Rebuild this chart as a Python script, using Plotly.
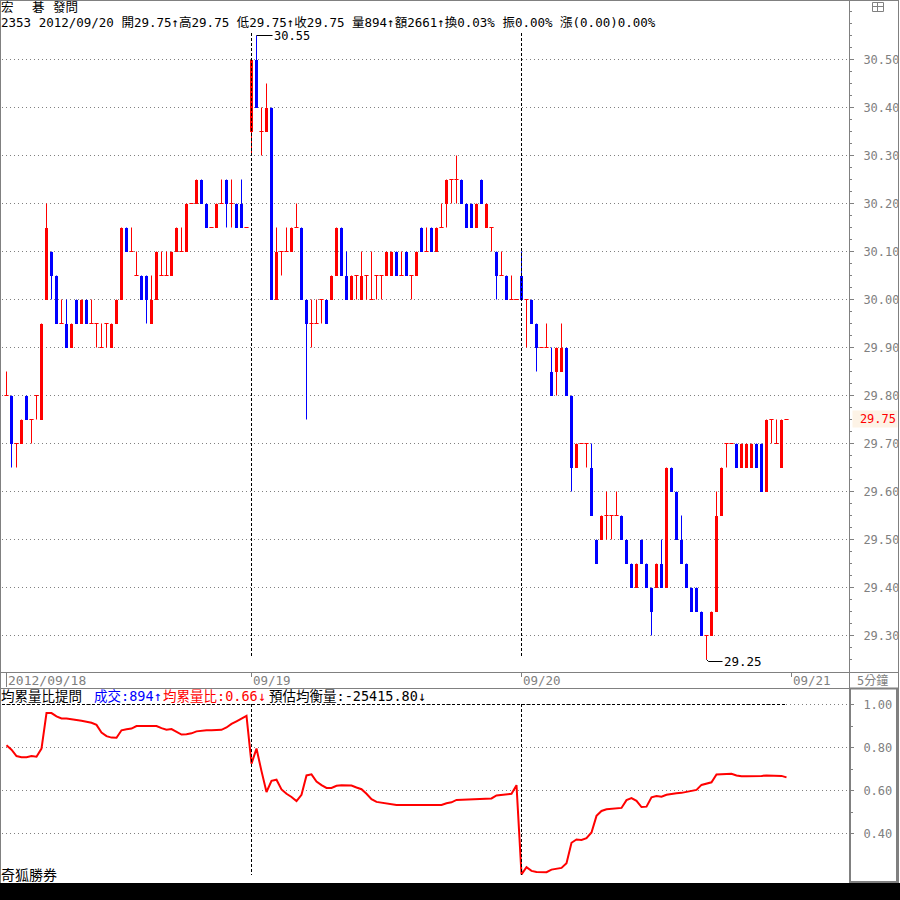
import plotly.graph_objects as go

# ---------------- data ----------------
day_labels = ["2012/09/18", "09/19", "09/20", "09/21"]
day_first_bar = [0, 49, 103, 157]

price_ticks = [30.50, 30.40, 30.30, 30.20, 30.10, 30.00, 29.90, 29.80, 29.70, 29.60, 29.50, 29.40, 29.30]
ratio_ticks = [1.00, 0.80, 0.60, 0.40]
last_price = 29.75

opens = [
    # 09/18
    29.80, 29.80, 29.70, 29.70, 29.80, 29.75, 29.80, 29.75, 30.00, 30.10,
    30.05, 29.95, 29.95, 29.90, 30.00, 29.95, 30.00, 29.95, 29.95, 29.90,
    29.95, 29.90, 29.95, 30.00, 30.15, 30.10, 30.05, 30.05, 30.05, 29.95,
    30.00, 30.05, 30.05, 30.05, 30.10, 30.10, 30.10, 30.20, 30.20, 30.25,
    30.20, 30.15, 30.15, 30.20, 30.25, 30.20, 30.20, 30.20, 30.15,
    # 09/19
    30.35, 30.50, 30.35, 30.35, 30.40, 30.00, 30.10, 30.10, 30.10, 30.15,
    30.15, 30.00, 29.95, 29.95, 30.00, 30.00, 30.00, 30.05, 30.15, 30.05,
    30.00, 30.05, 30.00, 30.05, 30.00, 30.05, 30.05, 30.05, 30.05, 30.10,
    30.05, 30.10, 30.05, 30.05, 30.15, 30.10, 30.15, 30.10, 30.15, 30.20,
    30.25, 30.25, 30.25, 30.20, 30.20, 30.15, 30.25, 30.15, 30.15, 30.10,
    30.05, 30.05, 30.00, 30.00,
    # 09/20
    30.05, 30.00, 30.00, 29.95, 29.90, 29.90, 29.85, 29.85, 29.85, 29.90,
    29.80, 29.65, 29.70, 29.70, 29.65, 29.50, 29.50, 29.55, 29.55, 29.55,
    29.55, 29.50, 29.45, 29.40, 29.50, 29.45, 29.40, 29.40, 29.45, 29.40,
    29.65, 29.60, 29.50, 29.45, 29.40, 29.40, 29.35, 29.30, 29.30, 29.35,
    29.55, 29.70, 29.70, 29.70, 29.65, 29.65, 29.65, 29.70, 29.70, 29.60,
    29.75, 29.70, 29.65, 29.75,
]
highs = [
    29.85, 29.80, 29.70, 29.75, 29.80, 29.75, 29.80, 29.95, 30.20, 30.10,
    30.05, 30.00, 30.00, 29.95, 30.00, 30.00, 30.00, 30.00, 29.95, 29.95,
    29.95, 29.95, 30.00, 30.15, 30.15, 30.15, 30.10, 30.05, 30.05, 30.05,
    30.10, 30.10, 30.10, 30.10, 30.15, 30.15, 30.20, 30.20, 30.25, 30.25,
    30.20, 30.15, 30.20, 30.25, 30.25, 30.25, 30.20, 30.25, 30.15,
    30.50, 30.55, 30.40, 30.45, 30.40, 30.15, 30.10, 30.15, 30.15, 30.20,
    30.15, 30.00, 30.00, 30.00, 30.00, 30.00, 30.05, 30.15, 30.15, 30.10,
    30.05, 30.05, 30.10, 30.05, 30.10, 30.05, 30.05, 30.10, 30.10, 30.10,
    30.10, 30.10, 30.05, 30.10, 30.15, 30.15, 30.15, 30.15, 30.20, 30.25,
    30.25, 30.30, 30.25, 30.20, 30.20, 30.20, 30.25, 30.20, 30.15, 30.10,
    30.10, 30.05, 30.05, 30.00,
    30.10, 30.00, 30.00, 29.95, 29.90, 29.95, 29.90, 29.90, 29.95, 29.90,
    29.80, 29.70, 29.70, 29.70, 29.70, 29.50, 29.55, 29.60, 29.55, 29.60,
    29.55, 29.50, 29.45, 29.45, 29.50, 29.45, 29.40, 29.45, 29.50, 29.65,
    29.65, 29.60, 29.55, 29.45, 29.40, 29.40, 29.35, 29.30, 29.35, 29.60,
    29.65, 29.70, 29.70, 29.70, 29.70, 29.70, 29.70, 29.70, 29.70, 29.75,
    29.75, 29.75, 29.75, 29.75,
]
lows = [
    29.80, 29.65, 29.65, 29.70, 29.75, 29.70, 29.75, 29.75, 30.00, 30.00,
    29.95, 29.95, 29.90, 29.90, 29.95, 29.95, 29.95, 29.95, 29.90, 29.90,
    29.90, 29.90, 29.95, 30.00, 30.10, 30.10, 30.05, 30.00, 29.95, 29.95,
    30.00, 30.05, 30.05, 30.05, 30.10, 30.10, 30.10, 30.20, 30.20, 30.20,
    30.15, 30.15, 30.15, 30.20, 30.15, 30.15, 30.15, 30.15, 30.15,
    30.30, 30.40, 30.30, 30.35, 30.00, 30.00, 30.05, 30.10, 30.10, 30.15,
    30.00, 29.75, 29.90, 29.95, 29.95, 29.95, 30.00, 30.05, 30.05, 30.00,
    30.00, 30.00, 30.00, 30.00, 30.00, 30.00, 30.00, 30.05, 30.05, 30.05,
    30.05, 30.05, 30.00, 30.05, 30.10, 30.10, 30.10, 30.10, 30.15, 30.15,
    30.20, 30.20, 30.20, 30.15, 30.15, 30.15, 30.20, 30.15, 30.10, 30.00,
    30.05, 30.00, 30.00, 30.00,
    30.00, 29.90, 29.95, 29.85, 29.90, 29.90, 29.80, 29.80, 29.85, 29.80,
    29.60, 29.65, 29.70, 29.65, 29.55, 29.45, 29.50, 29.50, 29.50, 29.55,
    29.50, 29.45, 29.40, 29.40, 29.45, 29.40, 29.30, 29.40, 29.40, 29.40,
    29.60, 29.50, 29.45, 29.40, 29.35, 29.35, 29.30, 29.25, 29.30, 29.35,
    29.55, 29.65, 29.70, 29.65, 29.65, 29.65, 29.65, 29.65, 29.60, 29.60,
    29.70, 29.70, 29.65, 29.75,
]
closes = [
    29.80, 29.70, 29.70, 29.75, 29.75, 29.75, 29.80, 29.95, 30.15, 30.05,
    29.95, 29.95, 29.90, 29.95, 29.95, 30.00, 29.95, 29.95, 29.95, 29.90,
    29.95, 29.95, 30.00, 30.15, 30.10, 30.10, 30.05, 30.00, 30.00, 30.00,
    30.10, 30.05, 30.05, 30.10, 30.15, 30.10, 30.20, 30.20, 30.25, 30.20,
    30.15, 30.15, 30.20, 30.20, 30.20, 30.20, 30.15, 30.15, 30.15,
    30.50, 30.40, 30.35, 30.40, 30.00, 30.10, 30.10, 30.10, 30.15, 30.15,
    30.00, 29.95, 29.95, 29.95, 30.00, 29.95, 30.05, 30.15, 30.05, 30.00,
    30.05, 30.05, 30.05, 30.05, 30.00, 30.05, 30.05, 30.10, 30.10, 30.05,
    30.05, 30.05, 30.05, 30.10, 30.10, 30.10, 30.10, 30.15, 30.15, 30.25,
    30.25, 30.25, 30.20, 30.15, 30.15, 30.20, 30.20, 30.20, 30.15, 30.05,
    30.05, 30.00, 30.00, 30.00,
    30.00, 30.00, 29.95, 29.90, 29.90, 29.90, 29.80, 29.90, 29.90, 29.80,
    29.65, 29.70, 29.70, 29.70, 29.55, 29.45, 29.55, 29.55, 29.55, 29.55,
    29.50, 29.45, 29.40, 29.45, 29.45, 29.40, 29.35, 29.45, 29.40, 29.65,
    29.60, 29.50, 29.45, 29.40, 29.35, 29.35, 29.30, 29.30, 29.35, 29.55,
    29.65, 29.70, 29.70, 29.65, 29.70, 29.70, 29.70, 29.65, 29.60, 29.75,
    29.75, 29.70, 29.75, 29.75,
]
ratio = [
    0.81, 0.79, 0.76, 0.755, 0.755, 0.76, 0.757, 0.795, 0.96, 0.96,
    0.945, 0.935, 0.935, 0.932, 0.93, 0.924, 0.92, 0.915, 0.905, 0.87,
    0.853, 0.846, 0.845, 0.88, 0.885, 0.888, 0.90, 0.90, 0.90, 0.90,
    0.90, 0.89, 0.883, 0.886, 0.872, 0.86, 0.862, 0.866, 0.875, 0.879,
    0.88, 0.88, 0.88, 0.882, 0.893, 0.91, 0.922, 0.935, 0.947, 0.725,
    0.795, 0.69, 0.593, 0.645, 0.65, 0.605, 0.585, 0.57, 0.551, 0.58,
    0.67, 0.675, 0.642, 0.625, 0.612, 0.612, 0.622, 0.624, 0.624, 0.623,
    0.614, 0.606, 0.585, 0.56, 0.547, 0.543, 0.54, 0.537, 0.533, 0.532,
    0.532, 0.532, 0.532, 0.535, 0.534, 0.532, 0.532, 0.533, 0.541, 0.545,
    0.556, 0.557, 0.557, 0.557, 0.558, 0.561, 0.562, 0.563, 0.577, 0.579,
    0.58, 0.585, 0.625, 0.21, 0.243, 0.226, 0.221, 0.22, 0.22, 0.232,
    0.236, 0.24, 0.262, 0.357, 0.372, 0.37, 0.378, 0.405, 0.482, 0.505,
    0.513, 0.516, 0.518, 0.519, 0.555, 0.565, 0.552, 0.523, 0.525, 0.568,
    0.574, 0.571, 0.58, 0.585, 0.587, 0.589, 0.594, 0.598, 0.603, 0.626,
    0.632, 0.638, 0.675, 0.675, 0.677, 0.678, 0.67, 0.666, 0.666, 0.666,
    0.666, 0.668, 0.67, 0.67, 0.67, 0.668, 0.661,
]

header_quote = "2353 2012/09/20 開29.75↑高29.75 低29.75↑收29.75 量894↑額2661↑換0.03% 振0.00% 漲(0.00)0.00%"

# ---------------- geometry helpers (pixel layout) ----------------
W = H = 900
X0_PX, X_STEP = 6.5, 5.0          # bar 0 centre, bar pitch
P_REF, P_REF_PX, P_SCALE = 30.0, 299.5, 480.0
V_REF_PX, V_SCALE = 704.5, 215.0


def gx(px):
    return (px - X0_PX) / X_STEP


def py(px):
    return P_REF - (px - P_REF_PX) / P_SCALE


def vy(px):
    return 1.0 - (px - V_REF_PX) / V_SCALE


def PX(px):
    return px / W


def PY(px):
    return 1 - px / H


GRAY = "#808080"
UP, DN = "#ff0000", "#0000ff"
MONO = "DejaVu Sans Mono, Noto Sans CJK TC"

n = len(opens)
idx = list(range(n))
col = [UP if closes[i] >= opens[i] else DN for i in idx]

fig = go.Figure()

# wicks
for color in (UP, DN):
    xs, ys = [], []
    for i in idx:
        if col[i] == color and highs[i] > lows[i]:
            xs += [i, i, None]
            ys += [lows[i], highs[i], None]
    fig.add_trace(go.Scatter(x=xs, y=ys, mode="lines", line=dict(color=color, width=1),
                             xaxis="x", yaxis="y", hoverinfo="skip"))

# bodies
body = [i for i in idx if abs(closes[i] - opens[i]) > 1e-9]
fig.add_trace(go.Bar(
    x=body,
    base=[min(opens[i], closes[i]) for i in body],
    y=[abs(closes[i] - opens[i]) for i in body],
    width=0.6,
    marker=dict(color=[col[i] for i in body], line=dict(width=0)),
    xaxis="x", yaxis="y", hoverinfo="skip",
))

# doji ticks
doji = [i for i in idx if abs(closes[i] - opens[i]) <= 1e-9]
fig.add_trace(go.Scatter(
    x=doji, y=[opens[i] for i in doji], mode="markers",
    marker=dict(symbol="line-ew", size=3, line=dict(color=UP, width=1)),
    xaxis="x", yaxis="y", hoverinfo="skip",
))

# ratio line
fig.add_trace(go.Scatter(x=idx, y=ratio, mode="lines", line=dict(color=UP, width=2),
                         xaxis="x2", yaxis="y2", hoverinfo="skip"))

x_range = [gx(2), gx(849)]
shapes = []
ann = []


def pline(x0, y0, x1, y1, color=GRAY, width=1, dash=None):
    d = dict(type="line", xref="paper", yref="paper", x0=PX(x0), y0=PY(y0), x1=PX(x1), y1=PY(y1),
             line=dict(color=color, width=width))
    if dash:
        d["line"]["dash"] = dash
    shapes.append(d)


# frame lines
pline(0, 0.5, 899, 0.5)
pline(0.5, 0, 0.5, 883)
pline(898.5, 0, 898.5, 883)
pline(849.5, 0, 849.5, 688)
pline(0, 672.5, 899, 672.5)
pline(0, 688.5, 849, 688.5)
shapes.append(dict(type="rect", xref="paper", yref="paper", x0=PX(850), x1=PX(897), y0=PY(688.5), y1=PY(882),
                   line=dict(color=GRAY, width=2)))
shapes.append(dict(type="rect", xref="paper", yref="paper", x0=0, x1=1, y0=0, y1=PY(883),
                   fillcolor="black", line=dict(width=0)))
# icon top right
shapes.append(dict(type="rect", xref="paper", yref="paper", x0=PX(872.5), x1=PX(883.5), y0=PY(2.5), y1=PY(11.5),
                   line=dict(color=GRAY, width=1)))
pline(872.5, 6.5, 883.5, 6.5)
pline(877.5, 2.5, 877.5, 11.5)

# day separators
for b in day_first_bar[1:3]:
    shapes.append(dict(type="line", xref="x", yref="y", x0=b, x1=b, y0=py(33), y1=py(656),
                       line=dict(color="black", width=1, dash="3px,2px")))
    shapes.append(dict(type="line", xref="x2", yref="y2", x0=b, x1=b, y0=vy(704), y1=vy(875),
                       line=dict(color="black", width=1, dash="3px,2px")))
# 1.00 reference dashed
shapes.append(dict(type="line", xref="x2", yref="y2", x0=gx(2), x1=n - 1, y0=1.0, y1=1.0,
                   line=dict(color="black", width=1, dash="3px,2px")))

# date labels + ticks
for k, (lab, b) in enumerate(zip(day_labels, day_first_bar)):
    shapes.append(dict(type="line", xref="x", yref="paper", x0=b, x1=b, y0=PY(673), y1=PY(687 if k == 0 else 677),
                       line=dict(color=GRAY, width=1)))
    ann.append(dict(x=b + 0.1, xref="x", y=PY(680), yref="paper", text=lab, showarrow=False,
                    xanchor="left", yanchor="middle", borderpad=0,
                    font=dict(family=MONO, size=13 if k == 0 else 12.5, color=GRAY)))

# max / min markers
i_hi = max(idx, key=lambda i: highs[i])
i_lo = min(idx, key=lambda i: lows[i])
shapes.append(dict(type="line", xref="x", yref="y", x0=i_hi, x1=i_hi + 3.2, y0=highs[i_hi], y1=highs[i_hi],
                   line=dict(color="black", width=1)))
ann.append(dict(x=i_hi + 3.2, xref="x", y=highs[i_hi], yref="y", text=f"{highs[i_hi]:.2f}", showarrow=False,
                xanchor="left", yanchor="middle", borderpad=0, yshift=-0.9,
                font=dict(family=MONO, size=12, color="black")))
dy = 2.0 / P_SCALE
shapes.append(dict(type="path", xref="x", yref="y",
                   path=f"M {i_lo},{lows[i_lo]} L {i_lo + 0.4},{lows[i_lo] - dy} L {i_lo + 3.2},{lows[i_lo] - dy}",
                   line=dict(color="black", width=1)))
ann.append(dict(x=i_lo + 3.2, xref="x", y=lows[i_lo] - dy, yref="y", text=f"{lows[i_lo]:.2f}", showarrow=False,
                xanchor="left", yanchor="middle", borderpad=0,
                font=dict(family=MONO, size=12.5, color="black")))

# last price tag on axis
ann.append(dict(x=PX(852), xref="paper", y=last_price, yref="y", text=f"{last_price:.2f}", showarrow=False,
                xanchor="left", yanchor="middle", bgcolor="#fdf3e6", borderpad=1,
                font=dict(family=MONO, size=12, color="#ff0000"), width=42, align="right"))

# header texts (stock name row)
for txt, x0 in [("宏", 0), ("碁", 31), ("發問", 52)]:
    ann.append(dict(x=PX(x0), xref="paper", y=PY(7.3), yref="paper", text=txt, showarrow=False,
                    xanchor="left", yanchor="middle", borderpad=0,
                    font=dict(family=MONO, size=12.5, color="black")))
ann.append(dict(x=PX(0), xref="paper", y=PY(22), yref="paper", text=header_quote, showarrow=False,
                xanchor="left", yanchor="middle", borderpad=0,
                font=dict(family=MONO, size=12.5, color="black")))

# bottom panel title
for txt, x0, c in [("均累量比提問", 0, "black"), ("成交:894↑", 93, "#0000ff"),
                   ("均累量比:0.66↓", 162, "#ff0000"), ("預估均衡量:-25415.80↓", 268, "black")]:
    ann.append(dict(x=PX(x0), xref="paper", y=PY(695.5), yref="paper", text=txt, showarrow=False,
                    xanchor="left", yanchor="middle", borderpad=0,
                    font=dict(family=MONO, size=13.5, color=c)))
ann.append(dict(x=PX(0), xref="paper", y=PY(875), yref="paper", text="奇狐勝券", showarrow=False,
                xanchor="left", yanchor="middle", borderpad=0,
                font=dict(family=MONO, size=14, color="black")))
ann.append(dict(x=PX(856), xref="paper", y=PY(680), yref="paper", text="5分鐘", showarrow=False,
                xanchor="left", yanchor="middle", borderpad=0,
                font=dict(family=MONO, size=12, color=GRAY)))

fig.update_layout(
    width=W, height=H, margin=dict(l=0, r=0, t=0, b=0),
    paper_bgcolor="white", plot_bgcolor="white", showlegend=False,
    hovermode=False, dragmode=False, bargap=0,
    xaxis=dict(domain=[PX(2), PX(849)], range=x_range, visible=False, anchor="y", fixedrange=True),
    yaxis=dict(domain=[PY(671), PY(1)], range=[py(671), py(1)], anchor="x", side="right",
               tickvals=price_ticks, ticktext=[f"{v:.2f}" for v in price_ticks],
               ticks="outside", ticklen=4, tickcolor=GRAY, tickwidth=1,
               tickfont=dict(family=MONO, size=12, color=GRAY), ticklabelstandoff=7,
               showgrid=True, gridcolor=GRAY, gridwidth=1, griddash="1px,3px",
               zeroline=False, showline=False, fixedrange=True,
               minor=dict(dtick=0.025, tick0=30.0, ticks="outside", ticklen=2, tickcolor=GRAY, showgrid=False)),
    xaxis2=dict(domain=[PX(2), PX(849)], range=x_range, visible=False, anchor="y2", fixedrange=True),
    yaxis2=dict(domain=[PY(882), PY(689)], range=[vy(882), vy(689)], anchor="x2", side="right",
                tickvals=ratio_ticks, ticktext=[f"{v:.2f}" for v in ratio_ticks],
                ticks="outside", ticklen=4, tickcolor=GRAY, tickwidth=1,
                tickfont=dict(family=MONO, size=12, color=GRAY), ticklabelstandoff=7,
                showgrid=True, gridcolor=GRAY, gridwidth=1, griddash="1px,3px",
                zeroline=False, showline=False, fixedrange=True,
                minor=dict(tickvals=[0.5, 0.7, 0.9], ticks="outside", ticklen=3, tickcolor=GRAY, showgrid=False)),
    shapes=shapes,
    annotations=ann,
)

fig.write_html("out.html", config={"displayModeBar": False, "staticPlot": True},
               post_script="document.body.style.margin='0';")
